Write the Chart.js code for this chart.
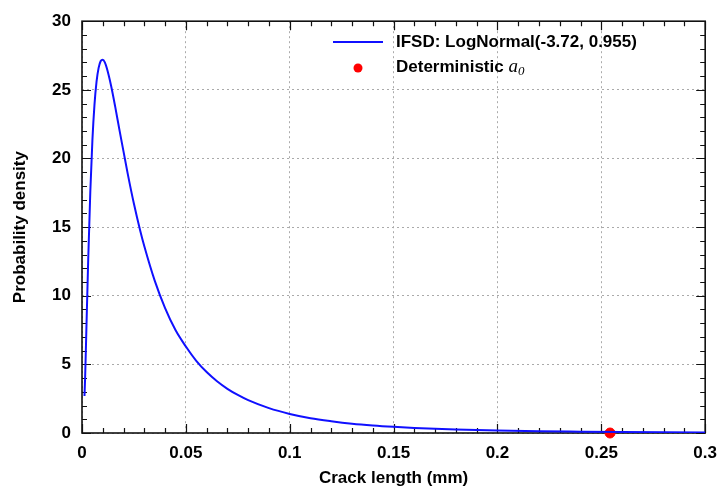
<!DOCTYPE html>
<html>
<head>
<meta charset="utf-8">
<script src="https://cdn.jsdelivr.net/npm/chart.js@4/dist/chart.umd.min.js"></script>
<style>
  html, body { margin: 0; padding: 0; background: #fff; }
  #wrap { width: 727px; height: 486px; }
</style>
</head>
<body>
<div id="wrap"><canvas id="chart" width="727" height="486"></canvas></div>
<script>
// IFSD curve
const crackLength = [0.0012, 0.0015, 0.002, 0.003, 0.004, 0.005, 0.006, 0.007, 0.008, 0.009,
  0.010, 0.011, 0.012, 0.014, 0.016, 0.018, 0.020, 0.022, 0.025, 0.028, 0.030, 0.035, 0.040,
  0.045, 0.050, 0.055, 0.060, 0.065, 0.070, 0.075, 0.080, 0.090, 0.100, 0.110, 0.120, 0.130,
  0.140, 0.150, 0.160, 0.180, 0.200, 0.220, 0.240, 0.260, 0.280, 0.300];
const density = [2.7, 4.0, 6.9, 12.7, 17.6, 21.3, 23.9, 25.6, 26.6, 27.1,
  27.2, 27.0, 26.55, 25.3, 23.76, 22.1, 20.5, 18.9, 16.7, 14.75, 13.6, 11.1, 9.1,
  7.5, 6.3, 5.26, 4.44, 3.77, 3.22, 2.77, 2.39, 1.81, 1.39, 1.08, 0.86, 0.68,
  0.55, 0.45, 0.37, 0.26, 0.18, 0.13, 0.10, 0.073, 0.056, 0.043];

// deterministic initial crack
const detLength = [0.2542];
const detDensity = [0];

const xTicks = [0, 0.05, 0.1, 0.15, 0.2, 0.25, 0.3];
const yTicks = [0, 5, 10, 15, 20, 25, 30];

const FONT = "'Liberation Sans', Arial, sans-serif";

// frame + inward ticks on all four sides, and the legend
const framePlugin = {
  id: 'frame',
  beforeDatasetsDraw(chart) {
    const { ctx, chartArea: a, scales: { x, y } } = chart;
    ctx.save();
    ctx.strokeStyle = '#111';
    ctx.lineWidth = 1.2;
    for (let i = 0; i <= 30; i++) {
      const px = Math.round(x.getPixelForValue(i * 0.01)) + 0.5;
      const len = i % 5 === 0 ? 9 : 5;
      ctx.beginPath();
      ctx.moveTo(px, a.bottom); ctx.lineTo(px, a.bottom - len);
      ctx.moveTo(px, a.top); ctx.lineTo(px, a.top + len);
      ctx.stroke();
    }
    for (let i = 0; i <= 30; i++) {
      const py = Math.round(y.getPixelForValue(i)) + 0.5;
      const len = i % 5 === 0 ? 9 : 5;
      ctx.beginPath();
      ctx.moveTo(a.left, py); ctx.lineTo(a.left + len, py);
      ctx.moveTo(a.right, py); ctx.lineTo(a.right - len, py);
      ctx.stroke();
    }
    ctx.lineWidth = 1.6;
    ctx.strokeRect(a.left, a.top, a.right - a.left, a.bottom - a.top);
    ctx.restore();
  },
  afterDraw(chart) {
    const { ctx } = chart;
    const ds = chart.data.datasets;
    ctx.save();
    ctx.font = 'bold 17px ' + FONT;
    ctx.textBaseline = 'middle';
    ctx.fillStyle = '#000';
    // line entry
    ctx.strokeStyle = ds[0].borderColor;
    ctx.lineWidth = 2;
    ctx.beginPath(); ctx.moveTo(333, 42); ctx.lineTo(383, 42); ctx.stroke();
    ctx.fillText(ds[0].label, 396, 42);
    // point entry
    ctx.fillStyle = ds[1].backgroundColor;
    ctx.beginPath(); ctx.arc(358, 68, 4.5, 0, Math.PI * 2); ctx.fill();
    ctx.fillStyle = '#000';
    ctx.fillText(ds[1].label, 396, 67);
    const w = ctx.measureText(ds[1].label + ' ').width;
    ctx.font = "italic 19px 'Liberation Serif', 'DejaVu Serif', serif";
    ctx.fillText('a', 396 + w, 67);
    const wa = ctx.measureText('a').width;
    ctx.font = "italic 13px 'Liberation Serif', 'DejaVu Serif', serif";
    ctx.fillText('0', 396 + w + wa, 72);
    ctx.restore();
  }
};

new Chart(document.getElementById('chart'), {
  type: 'scatter',
  data: {
    datasets: [{
      label: 'IFSD: LogNormal(-3.72, 0.955)',
      data: crackLength.map((v, i) => ({ x: v, y: density[i] })),
      showLine: true,
      borderColor: '#1010ff',
      borderWidth: 2,
      pointRadius: 0,
      cubicInterpolationMode: 'monotone'
    }, {
      label: 'Deterministic',
      data: detLength.map((v, i) => ({ x: v, y: detDensity[i] })),
      backgroundColor: '#ff0000',
      borderColor: '#ff0000',
      pointRadius: 5,
      clip: false
    }]
  },
  options: {
    responsive: false,
    animation: false,
    layout: { padding: { top: 19, right: 18, left: 0, bottom: 0 } },
    plugins: { legend: { display: false }, tooltip: { enabled: false } },
    scales: {
      x: {
        type: 'linear', min: 0, max: 0.3,
        afterBuildTicks: s => { s.ticks = xTicks.map(v => ({ value: v })); },
        afterFit: s => { s.height = 53; },
        ticks: {
          color: '#000', padding: 10, maxRotation: 0,
          font: { family: FONT, size: 17, weight: 'bold' },
          callback: v => String(Number(v.toFixed(2)))
        },
        grid: { color: '#aaa', drawTicks: false },
        border: { display: false, dash: [2, 3] },
        title: {
          display: true, text: 'Crack length (mm)', color: '#000',
          font: { family: FONT, size: 17, weight: 'bold' },
          padding: { top: 0, bottom: -3 }
        }
      },
      y: {
        min: 0, max: 30,
        afterBuildTicks: s => { s.ticks = yTicks.map(v => ({ value: v })); },
        afterFit: s => { s.width = 82; },
        ticks: {
          color: '#000', padding: 11,
          font: { family: FONT, size: 17, weight: 'bold' }
        },
        grid: { color: '#aaa', drawTicks: false },
        border: { display: false, dash: [2, 3] },
        title: {
          display: true, text: 'Probability density', color: '#000',
          font: { family: FONT, size: 17, weight: 'bold' },
          padding: { top: 10, bottom: 0 }
        }
      }
    }
  },
  plugins: [framePlugin]
});
</script>
</body>
</html>
